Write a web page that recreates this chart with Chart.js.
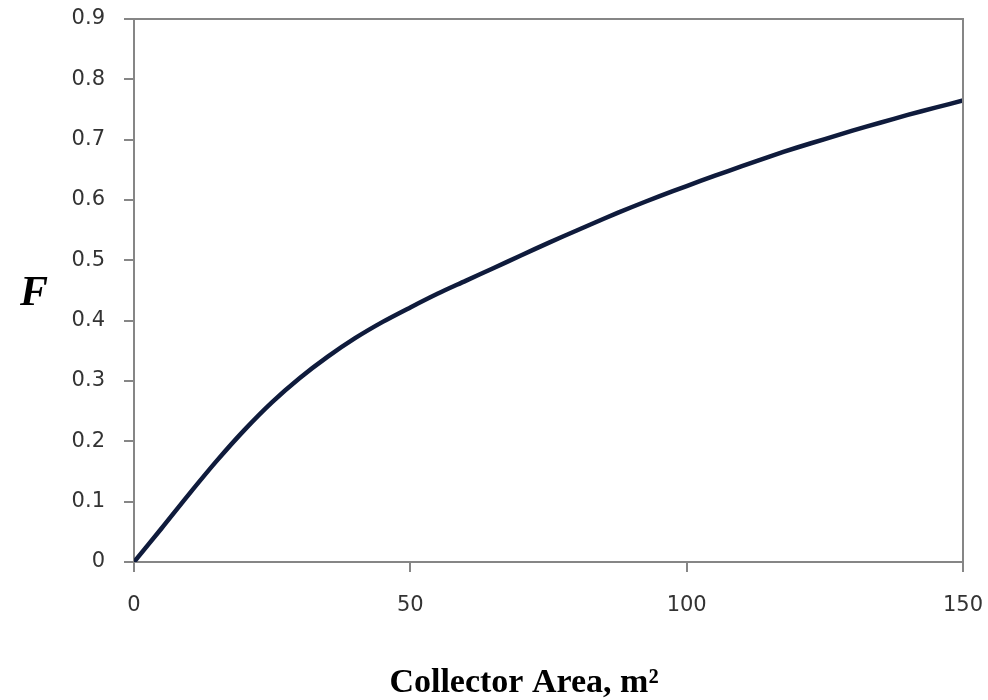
<!DOCTYPE html>
<html>
<head>
<meta charset="utf-8">
<script src="https://cdn.jsdelivr.net/npm/chart.js@4"></script>
<style>
  html, body { margin: 0; padding: 0; background: #fff; }
  #wrap { position: relative; width: 988px; height: 700px; }
</style>
</head>
<body>
<div id="wrap"><canvas id="c" width="988" height="700"></canvas></div>
<script>
// Collector area (m²) vs solar fraction F
const area = [0, 5, 10, 15, 20, 25, 30, 35, 40, 45, 50, 55, 60, 65, 70, 75, 80, 85, 90, 95, 100, 105, 110, 115, 120, 125, 130, 135, 140, 145, 150];
const fraction = [0, 0.056, 0.113, 0.168, 0.219, 0.265, 0.305, 0.340, 0.371, 0.398, 0.422, 0.445, 0.466, 0.487, 0.508, 0.529, 0.549, 0.569, 0.588, 0.606, 0.623, 0.640, 0.656, 0.672, 0.687, 0.701, 0.715, 0.728, 0.741, 0.753, 0.765];
const xTicks = [0, 50, 100, 150];
const yTicks = [0, 0.1, 0.2, 0.3, 0.4, 0.5, 0.6, 0.7, 0.8, 0.9];

const AXIS = '#868686';
const LINE = '#0f1b3c';
const tickFont = { family: "'DejaVu Sans', sans-serif", size: 21 };

// frame round the plot area + the two axis titles
const decor = {
  id: 'decor',
  afterDraw(chart) {
    const { ctx, chartArea: a } = chart;
    ctx.save();
    ctx.strokeStyle = AXIS;
    ctx.lineWidth = 2;
    ctx.beginPath();
    ctx.moveTo(a.left, a.top); ctx.lineTo(a.right, a.top); ctx.lineTo(a.right, a.bottom);
    ctx.stroke();
    ctx.fillStyle = '#000';
    ctx.textAlign = 'center';
    ctx.textBaseline = 'middle';
    ctx.font = "italic bold 42px 'Liberation Serif', serif";
    ctx.fillText('F', 34, 294);
    ctx.font = "bold 34px 'Liberation Serif', serif";
    ctx.textBaseline = 'alphabetic';
    ctx.fillText('Collector Area, m²', 524, 692);
    ctx.restore();
  },
};

new Chart(document.getElementById('c'), {
  type: 'line',
  plugins: [decor],
  data: {
    datasets: [{
      data: area.map((a, i) => ({ x: a, y: fraction[i] })),
      borderColor: LINE, borderWidth: 4.5, pointRadius: 0, tension: 0.3, fill: false,
    }],
  },
  options: {
    responsive: false, animation: false,
    layout: { padding: { top: 19, right: 25, left: 0, bottom: 0 } },
    plugins: { legend: { display: false }, tooltip: { enabled: false } },
    scales: {
      x: {
        type: 'linear', min: 0, max: 150,
        afterBuildTicks: s => { s.ticks = xTicks.map(v => ({ value: v })); },
        afterFit: s => { s.height = 138; s.paddingLeft = 0; s.paddingRight = 0; },
        ticks: { color: '#333', font: tickFont, padding: 21, maxRotation: 0 },
        grid: { drawOnChartArea: false, drawTicks: true, tickLength: 10, color: AXIS, lineWidth: 2 },
        border: { color: AXIS, width: 2 },
      },
      y: {
        min: 0, max: 0.9,
        afterBuildTicks: s => { s.ticks = yTicks.map(v => ({ value: v })); },
        afterFit: s => { s.width = 134; s.paddingTop = 0; s.paddingBottom = 0; },
        ticks: { color: '#333', font: tickFont, padding: 19 },
        grid: { drawOnChartArea: false, drawTicks: true, tickLength: 10, color: AXIS, lineWidth: 2 },
        border: { color: AXIS, width: 2 },
      },
    },
  },
});
</script>
</body>
</html>
